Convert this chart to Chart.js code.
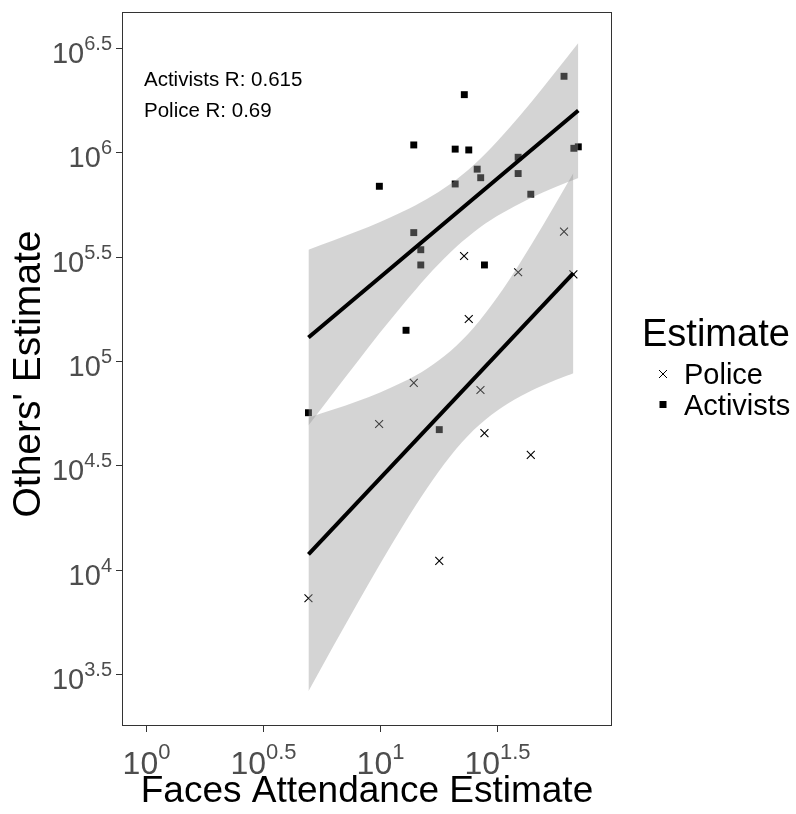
<!DOCTYPE html>
<html>
<head>
<meta charset="utf-8">
<script src="https://cdn.jsdelivr.net/npm/chart.js@4.4.1/dist/chart.umd.min.js"></script>
<style>
  html, body { margin: 0; padding: 0; background: #fff; }
  #wrap { width: 796px; height: 814px; }
</style>
</head>
<body>
<div id="wrap"><canvas id="chart" width="796" height="814"></canvas></div>
<script>
// ── DATA (log10 units) ──────────────────────────────────
const activistsX = [1.786, 1.360, 1.144, 1.321, 1.379, 1.590, 1.415, 1.430, 1.590, 1.321, 0.997,
                    1.644, 1.828, 1.847, 1.144, 1.174, 1.174, 1.446, 1.111, 0.694, 1.253];
const activistsY = [6.364, 6.276, 6.035, 6.015, 6.011, 5.976, 5.919, 5.878, 5.898, 5.848, 5.837,
                    5.799, 6.019, 6.026, 5.615, 5.533, 5.460, 5.460, 5.147, 4.752, 4.671];

const policeX = [1.359, 1.590, 1.786, 1.826, 1.379, 1.144, 1.429, 0.996, 1.446, 1.644, 1.253, 0.694];
const policeY = [5.503, 5.425, 5.620, 5.415, 5.201, 4.895, 4.861, 4.698, 4.654, 4.550, 4.042, 3.863];

// fitted lines, end points
const fitAX = [0.694, 1.847];
const fitAY = [5.112, 6.200];
const fitPX = [0.694, 1.826];
const fitPY = [4.073, 5.421];

// confidence bands
const bandAX     = [0.694, 0.8, 0.9, 1.0, 1.1, 1.2, 1.3, 1.4, 1.5, 1.6, 1.7, 1.8, 1.847];
const bandAUpper = [5.533, 5.577, 5.620, 5.666, 5.717, 5.776, 5.848, 5.939, 6.052, 6.178, 6.315, 6.456, 6.523];
const bandALower = [4.691, 4.847, 4.992, 5.136, 5.273, 5.404, 5.520, 5.617, 5.694, 5.756, 5.809, 5.856, 5.877];

const bandPX     = [0.694, 0.8, 0.9, 1.0, 1.1, 1.2, 1.3, 1.4, 1.5, 1.6, 1.7, 1.8, 1.826];
const bandPUpper = [4.728, 4.767, 4.806, 4.849, 4.900, 4.963, 5.046, 5.159, 5.304, 5.473, 5.657, 5.850, 5.901];
const bandPLower = [3.418, 3.633, 3.832, 4.027, 4.214, 4.389, 4.544, 4.669, 4.762, 4.831, 4.885, 4.930, 4.941];

const xTicks = [0, 0.5, 1, 1.5];
const yTicks = [3.5, 4, 4.5, 5, 5.5, 6, 6.5];

const annotations = ['Activists R: 0.615', 'Police R: 0.69'];
const legendTitle = 'Estimate';
const legendItems = ['Police', 'Activists'];

// ── HELPERS ─────────────────────────────────────────────
const pts = (xs, ys) => xs.map((x, i) => ({ x, y: ys[i] }));
const FONT = '"Liberation Sans", Arial, sans-serif';
const RIBBON = 'rgba(153,153,153,0.42)';

// draws 10^sup with a raised exponent
const drawPow = (ctx, sup, x, y, align, baseSize, supSize, supRise) => {
  ctx.font = `${baseSize}px ${FONT}`;
  const wb = ctx.measureText('10').width;
  ctx.font = `${supSize}px ${FONT}`;
  const ws = ctx.measureText(sup).width;
  const total = wb + ws;
  const x0 = align === 'right' ? x - total : x - total / 2;
  ctx.textAlign = 'left';
  ctx.textBaseline = 'alphabetic';
  ctx.font = `${baseSize}px ${FONT}`;
  ctx.fillText('10', x0, y);
  ctx.font = `${supSize}px ${FONT}`;
  ctx.fillText(sup, x0 + wb, y - supRise);
};

// ── AXES / LEGEND PLUGIN ────────────────────────────────
const decor = {
  id: 'decor',
  afterDraw(chart) {
    const { ctx, chartArea: a, scales } = chart;
    ctx.save();

    // panel border
    ctx.strokeStyle = '#333333';
    ctx.lineWidth = 1;
    ctx.strokeRect(a.left + 0.5, a.top + 0.5, a.right - a.left - 1, a.bottom - a.top - 1);

    // ticks + labels
    ctx.fillStyle = '#4d4d4d';
    xTicks.forEach(t => {
      const px = Math.round(scales.x.getPixelForValue(t)) + 0.5;
      ctx.beginPath(); ctx.moveTo(px, a.bottom); ctx.lineTo(px, a.bottom + 6); ctx.stroke();
      drawPow(ctx, String(t), px, a.bottom + 48, 'center', 32, 22, 15);
    });
    yTicks.forEach(t => {
      const py = Math.round(scales.y.getPixelForValue(t)) + 0.5;
      ctx.beginPath(); ctx.moveTo(a.left - 6, py); ctx.lineTo(a.left, py); ctx.stroke();
      drawPow(ctx, String(t), a.left - 10, py + 14, 'right', 29, 20, 13);
    });

    // axis titles
    ctx.fillStyle = '#000';
    ctx.font = `37px ${FONT}`;
    ctx.textAlign = 'center';
    ctx.textBaseline = 'alphabetic';
    ctx.fillText('Faces Attendance Estimate', (a.left + a.right) / 2, 802);
    ctx.save();
    ctx.translate(40, 374);
    ctx.rotate(-Math.PI / 2);
    ctx.font = `39px ${FONT}`;
    ctx.fillText("Others' Estimate", 0, 0);
    ctx.restore();

    // R annotations
    ctx.font = `20.5px ${FONT}`;
    ctx.textAlign = 'left';
    annotations.forEach((t, i) => ctx.fillText(t, 144, 86 + i * 31));

    // legend
    ctx.font = `38px ${FONT}`;
    ctx.fillText(legendTitle, 642, 346);
    ctx.font = `29px ${FONT}`;
    ctx.fillText(legendItems[0], 684, 384);
    ctx.fillText(legendItems[1], 684, 415);
    ctx.strokeStyle = '#000';
    ctx.lineWidth = 1;
    ctx.beginPath();
    ctx.moveTo(659, 370); ctx.lineTo(667, 378);
    ctx.moveTo(667, 370); ctx.lineTo(659, 378);
    ctx.stroke();
    ctx.fillRect(659.5, 401, 7, 7);

    ctx.restore();
  }
};

// ── CHART ───────────────────────────────────────────────
const lineDs = (data, order) => ({
  data, showLine: true, borderColor: '#000', borderWidth: 4,
  pointRadius: 0, fill: false, order
});
const bandDs = (data, fill, order) => ({
  data, showLine: true, borderWidth: 0, borderColor: 'rgba(0,0,0,0)',
  backgroundColor: RIBBON, pointRadius: 0, fill, cubicInterpolationMode: 'monotone', order
});

new Chart(document.getElementById('chart'), {
  type: 'scatter',
  data: {
    datasets: [
      lineDs(pts(fitAX, fitAY), 0),
      lineDs(pts(fitPX, fitPY), 0),
      bandDs(pts(bandAX, bandAUpper), '+1', 1),
      bandDs(pts(bandAX, bandALower), false, 1),
      bandDs(pts(bandPX, bandPUpper), '+1', 1),
      bandDs(pts(bandPX, bandPLower), false, 1),
      {
        label: 'Activists', data: pts(activistsX, activistsY), order: 2,
        pointStyle: 'rect', pointRadius: 4.9, backgroundColor: '#000', borderWidth: 0
      },
      {
        label: 'Police', data: pts(policeX, policeY), order: 2,
        pointStyle: 'crossRot', pointRadius: 5.6, borderColor: '#000', borderWidth: 1.1
      }
    ]
  },
  options: {
    responsive: false,
    animation: false,
    devicePixelRatio: 1,
    layout: { padding: { left: 122, right: 184, top: 12, bottom: 88 } },
    plugins: { legend: { display: false }, tooltip: { enabled: false } },
    scales: {
      x: { type: 'linear', min: -0.1026, max: 1.991, display: false },
      y: { type: 'linear', min: 3.251, max: 6.672, display: false }
    }
  },
  plugins: [decor]
});
</script>
</body>
</html>
